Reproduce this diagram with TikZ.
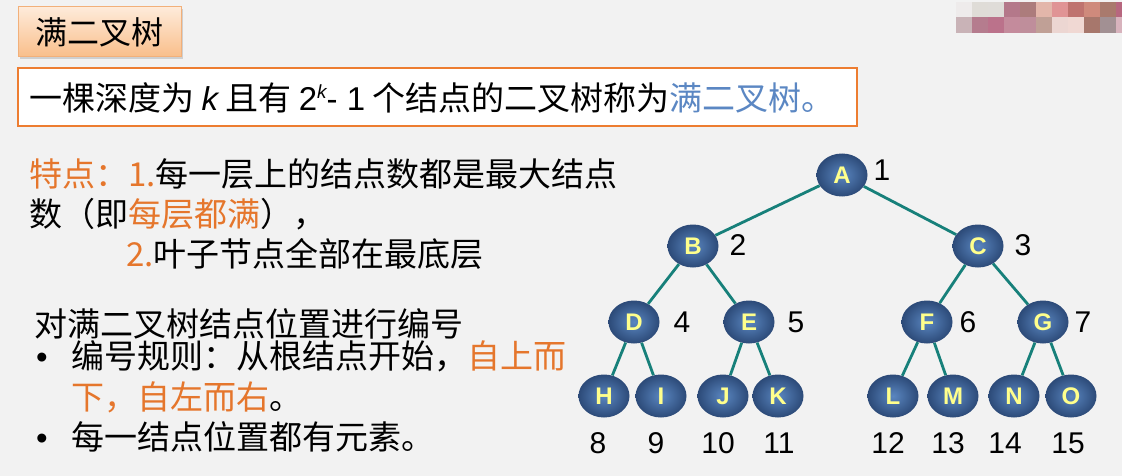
\documentclass[tikz,border=0pt]{standalone}
\usepackage{fontspec}
\setmainfont{Noto Sans CJK SC}
\newfontfamily\latinfont{Liberation Sans}
\usetikzlibrary{shapes.geometric,shadows}
\definecolor{bggray}{HTML}{F2F2F2}
\definecolor{hilite}{HTML}{E5762C}
\definecolor{defblue}{HTML}{5B87C3}
\definecolor{boxorange}{HTML}{ED7D31}
\definecolor{titletop}{HTML}{FEEBDA}
\definecolor{titlebot}{HTML}{F9BE8A}
\definecolor{titleedge}{HTML}{F2B07A}
\definecolor{nodein}{HTML}{5A86C0}
\definecolor{nodeout}{HTML}{2C4A78}
\definecolor{nodetext}{HTML}{FFFF8C}
\definecolor{branchcol}{HTML}{17807A}

\begin{document}
\begin{tikzpicture}[x=1pt, y=-1pt]
\tikzstyle{titlebox} = [rectangle, minimum width=163pt, minimum height=50pt, draw=titleedge, line width=1pt, top color=titletop, bottom color=titlebot, drop shadow={opacity=0.3, shadow xshift=1.5pt, shadow yshift=-2pt}, font=\fontsize{32}{36}\selectfont]
\tikzstyle{defbox} = [rectangle, minimum width=839pt, minimum height=58pt, draw=boxorange, line width=2pt, fill=white]
\tikzstyle{txt} = [anchor=base west, inner sep=0pt, font=\fontsize{33}{38}\selectfont]
\tikzstyle{treenode} = [ellipse, minimum width=51pt, minimum height=43pt, inner sep=0pt, inner color=nodein, outer color=nodeout, text=nodetext, font=\latinfont\bfseries\fontsize{24}{24}\selectfont]
\tikzstyle{numlabel} = [inner sep=0pt, font=\latinfont\fontsize{30}{30}\selectfont]
\tikzstyle{treeedge} = [draw=branchcol, line width=2.8pt]
\fill[bggray] (0,0) rectangle (1122,476);
\useasboundingbox (0,0) rectangle (1122,476);
% blurred mark, top right
\foreach \x/\c in {956/EEEBEB,972/DFDCD7,988/DFDCD8,1004/B4788A,1020/AC7C7C,1036/E3B6AA,1052/E09495,1068/BF736F,1084/CF8A7C,1100/A97A6D,1116/B7677F}{
  \definecolor{mosaic}{HTML}{\c}
  \fill[mosaic] (\x,2) rectangle ++(16,15);
}
\foreach \x/\c in {956/C9B3B7,972/B57C8E,988/BB728B,1004/C48B9C,1020/BF8E9B,1036/C0A096,1052/ECD6D2,1068/F0D8D3,1084/A7776C,1100/A29093,1116/D8B3BD}{
  \definecolor{mosaic}{HTML}{\c}
  \fill[mosaic] (\x,17) rectangle ++(16,16);
}
% heading and definition
\node (title) at (99.5,32) [titlebox] {满二叉树};
\node (defframe) at (437.5,97) [defbox] {};
\node (deftext) at (29,111) [txt] {一棵深度为 {\latinfont\itshape k} 且有 {\latinfont 2\raisebox{12pt}{\fontsize{19}{19}\selectfont\itshape k}- 1} 个结点的二叉树称为\textcolor{defblue}{满二叉树。}};
% left text
\node (feat1) at (29,186) [txt] {\textcolor{hilite}{特点：1.}每一层上的结点数都是最大结点};
\node (feat2) at (29,226) [txt] {数（即\textcolor{hilite}{每层都满}），};
\node (feat3) at (126,266) [txt] {\textcolor{hilite}{2.}叶子节点全部在最底层};
\node (numtitle) at (34,336) [txt] {对满二叉树结点位置进行编号};
\node (dot1) at (36,368) [txt] {\latinfont •};
\node (rule1) at (71,368) [txt] {编号规则：从根结点开始，\textcolor{hilite}{自上而}};
\node (rule2) at (71,409) [txt] {\textcolor{hilite}{下，自左而右}。};
\node (dot2) at (36,449) [txt] {\latinfont •};
\node (rule3) at (71,449) [txt] {每一结点位置都有元素。};
% tree
\node (A) at (842,175) [treenode] {A};
\node (B) at (693,246) [treenode] {B};
\node (C) at (978,246) [treenode] {C};
\node (D) at (634,322) [treenode] {D};
\node (E) at (749,322) [treenode] {E};
\node (F) at (927,322) [treenode] {F};
\node (G) at (1043,322) [treenode] {G};
\node (H) at (604,396) [treenode] {H};
\node (I) at (661,396) [treenode] {I};
\node (J) at (723,396) [treenode] {J};
\node (K) at (778,396) [treenode] {K};
\node (L) at (893,396) [treenode] {L};
\node (M) at (953,396) [treenode] {M};
\node (N) at (1014,396) [treenode] {N};
\node (O) at (1071,396) [treenode] {O};
\draw[treeedge] (A) -- (B);
\draw[treeedge] (A) -- (C);
\draw[treeedge] (B) -- (D);
\draw[treeedge] (B) -- (E);
\draw[treeedge] (C) -- (F);
\draw[treeedge] (C) -- (G);
\draw[treeedge] (D) -- (H);
\draw[treeedge] (D) -- (I);
\draw[treeedge] (E) -- (J);
\draw[treeedge] (E) -- (K);
\draw[treeedge] (F) -- (L);
\draw[treeedge] (F) -- (M);
\draw[treeedge] (G) -- (N);
\draw[treeedge] (G) -- (O);
% numbering
\node (n1) at (882,170) [numlabel] {1};
\node (n2) at (738,245) [numlabel] {2};
\node (n3) at (1023,245) [numlabel] {3};
\node (n4) at (682,322) [numlabel] {4};
\node (n5) at (796,322) [numlabel] {5};
\node (n6) at (968,322) [numlabel] {6};
\node (n7) at (1083,322) [numlabel] {7};
\node (n8) at (598,443) [numlabel] {8};
\node (n9) at (656,443) [numlabel] {9};
\node (n10) at (718,443) [numlabel] {10};
\node (n11) at (779,443) [numlabel] {11};
\node (n12) at (888,443) [numlabel] {12};
\node (n13) at (948,443) [numlabel] {13};
\node (n14) at (1005,443) [numlabel] {14};
\node (n15) at (1068,443) [numlabel] {15};
\end{tikzpicture}
\end{document}
